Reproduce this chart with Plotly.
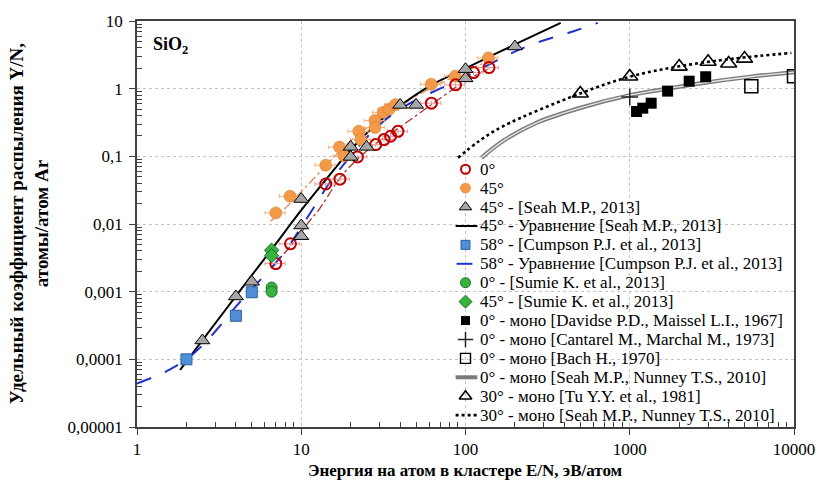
import plotly.graph_objects as go

# ---------------- data ----------------
# measured cluster data (this work)
red0_x = [7.0, 8.6, 14.1, 17.2, 22.0, 28.4, 31.9, 35.0, 38.8, 62, 87, 112, 139]
red0_y = [0.0026, 0.0051, 0.039, 0.046, 0.098, 0.149, 0.177, 0.198, 0.234, 0.61, 1.14, 1.73, 2.05]

orange45_x = [7.0, 8.55, 14.1, 17.1, 18.2, 22.4, 23.1, 28.1, 28.1, 31.5, 34.2, 37.4, 61.8, 86.7, 138]
orange45_y = [0.0146, 0.0257, 0.074, 0.137, 0.101, 0.234, 0.177, 0.338, 0.267, 0.446, 0.498, 0.58, 1.16, 1.53, 2.84]

# trend lines for the two series above
trend0_x = [6.6, 9.2, 11.3, 12.7, 18.3, 28, 39, 60, 100, 140]
trend0_y = [0.0023, 0.0057, 0.0113, 0.0158, 0.0575, 0.15, 0.26, 0.55, 1.3, 2.0]
trend45_x = [6.5, 8.35, 11.3, 15, 20, 30, 50, 100, 150]
trend45_y = [0.011, 0.019, 0.041, 0.085, 0.17, 0.36, 0.78, 1.8, 2.8]

# Seah M.P., 2013 (45°)
seah_x = [2.5, 4, 5, 10, 10, 10, 20, 20, 25, 40, 50, 100, 100, 200]
seah_y = [0.00019, 0.00085, 0.0014, 0.0234, 0.0095, 0.0066, 0.138, 0.098, 0.138, 0.575, 0.575, 1.94, 1.42, 4.2]
seah_eq_x = [1.83, 2.5, 4, 6.6, 10, 15, 20, 30, 40, 60, 100, 200, 380]
seah_eq_y = [7.0e-5, 1.9e-4, 8.6e-4, 4.2e-3, 0.016, 0.054, 0.125, 0.33, 0.56, 1.08, 2.0, 4.5, 9.4]

# Cumpson P.J. et al., 2013 (58°)
cumpson_x = [2, 4, 5]
cumpson_y = [0.0001, 0.00044, 0.00098]
cumpson_eq_x = [1, 1.5, 2, 2.5, 3, 4, 5, 6.3, 8, 10, 12, 14.5, 17.5, 25, 35, 50, 70, 100, 230, 450, 640]
cumpson_eq_y = [4.4e-5, 6.6e-5, 1.0e-4, 1.6e-4, 2.6e-4, 6.0e-4, 1.1e-3, 2.0e-3, 4.0e-3, 9.0e-3,
                0.018, 0.037, 0.068, 0.19, 0.40, 0.68, 1.0, 1.5, 4.1, 7.0, 9.4]

# Sumie K. et al., 2013
sumie0_x = [6.6, 6.6]
sumie0_y = [0.00115, 0.00100]
sumie45_x = [6.6, 6.6]
sumie45_y = [0.0041, 0.0034]

# monatomic Ar data
davidse_x = [1100, 1200, 1350, 1700, 2300, 2900]
davidse_y = [0.46, 0.515, 0.61, 0.92, 1.29, 1.5]
cantarel_x = [1000]
cantarel_y = [0.75]
bach_x = [5500, 10000]
bach_y = [1.09, 1.53]
tu_x = [500, 1000, 2000, 3000, 4000, 5000]
tu_y = [0.85, 1.51, 2.12, 2.5, 2.35, 2.78]

seah0_mono_x = [125, 169, 268, 500, 1000, 1700, 2700, 5400, 10000]
seah0_mono_y = [0.095, 0.168, 0.31, 0.52, 0.80, 1.0, 1.2, 1.5, 1.75]
seah30_mono_x = [90, 120, 169, 500, 1000, 2000, 4290, 9640]
seah30_mono_y = [0.095, 0.166, 0.278, 0.85, 1.5, 2.14, 2.78, 3.37]

x_ticks = [1, 10, 100, 1000, 10000]
x_ticktext = ["1", "10", "100", "1000", "10000"]
y_ticks = [1e-5, 1e-4, 1e-3, 1e-2, 1e-1, 1, 10]
y_ticktext = ["0,00001", "0,0001", "0,001", "0,01", "0,1", "1", "10"]

legend_labels = [
    "0°",
    "45°",
    "45° - [Seah M.P., 2013]",
    "45° - Уравнение [Seah M.P., 2013]",
    "58° - [Cumpson P.J. et al., 2013]",
    "58° - Уравнение [Cumpson P.J. et al., 2013]",
    "0° - [Sumie K. et al., 2013]",
    "45° - [Sumie K. et al., 2013]",
    "0° - моно [Davidse P.D., Maissel L.I., 1967]",
    "0° - моно [Cantarel M., Marchal M., 1973]",
    "0° - моно [Bach H., 1970]",
    "0° - моно [Seah M.P., Nunney T.S., 2010]",
    "30° - моно [Tu Y.Y. et al., 1981]",
    "30° - моно [Seah M.P., Nunney T.S., 2010]",
]

# ---------------- styles ----------------
SERIF = "Liberation Serif"
RED = "#c00000"
ORANGE = "#f39a4a"
GRAY_TRI = "#a6a6a6"
BLUE_SQ = "#4f8fd6"
BLUE_LINE = "#2233cc"
GREEN = "#37b33f"
GREEN_DARK = "#1d6e25"

W, H = 827, 481
ML, MR, MT, MB = 137, 26, 17, 54
PW, PH = W - ML - MR, H - MT - MB

fig = go.Figure()

# trend lines
fig.add_trace(go.Scatter(x=trend45_x, y=trend45_y, mode="lines", line_shape="spline",
                         line=dict(color="#e08a50", width=1.3, dash="dashdot"), showlegend=False))
fig.add_trace(go.Scatter(x=trend0_x, y=trend0_y, mode="lines", line_shape="spline",
                         line=dict(color="#b03030", width=1.3, dash="dashdot"), showlegend=False))

# equation curves
fig.add_trace(go.Scatter(x=seah_eq_x, y=seah_eq_y, mode="lines", line_shape="spline",
                         line=dict(color="black", width=2), showlegend=False))
fig.add_trace(go.Scatter(x=cumpson_eq_x, y=cumpson_eq_y, mode="lines", line_shape="spline",
                         line=dict(color=BLUE_LINE, width=2, dash="longdash"), showlegend=False))
fig.add_trace(go.Scatter(x=seah0_mono_x, y=seah0_mono_y, mode="lines", line_shape="spline",
                         line=dict(color="#7a7a7a", width=4.2), showlegend=False))
fig.add_trace(go.Scatter(x=seah0_mono_x, y=seah0_mono_y, mode="lines", line_shape="spline",
                         line=dict(color="#e8e8e8", width=1.3), showlegend=False))
fig.add_trace(go.Scatter(x=seah30_mono_x, y=seah30_mono_y, mode="lines", line_shape="spline",
                         line=dict(color="black", width=2.6, dash="dot"), showlegend=False))

# markers
fig.add_trace(go.Scatter(
    x=orange45_x, y=orange45_y, mode="markers", showlegend=False,
    marker=dict(symbol="circle", size=12, color=ORANGE, line=dict(color="#e07b28", width=0.6)),
    error_x=dict(type="percent", value=14, color="#f2b27a", thickness=1, width=2),
    error_y=dict(type="percent", value=8, color="#f2b27a", thickness=1, width=0)))
fig.add_trace(go.Scatter(
    x=red0_x, y=red0_y, mode="markers", showlegend=False,
    marker=dict(symbol="circle-open", size=11, color=RED, line=dict(color=RED, width=2)),
    error_x=dict(type="percent", value=14, color="#e49a9a", thickness=1, width=2),
    error_y=dict(type="percent", value=8, color="#e49a9a", thickness=1, width=0)))
fig.add_trace(go.Scatter(x=seah_x, y=seah_y, mode="markers", showlegend=False,
                         marker=dict(symbol="triangle-up", size=13, color=GRAY_TRI,
                                     line=dict(color="black", width=1))))
fig.add_trace(go.Scatter(x=cumpson_x, y=cumpson_y, mode="markers", showlegend=False,
                         marker=dict(symbol="square", size=11, color=BLUE_SQ,
                                     line=dict(color="#2f5f9f", width=1))))
fig.add_trace(go.Scatter(x=sumie0_x, y=sumie0_y, mode="markers", showlegend=False,
                         marker=dict(symbol="circle", size=11, color=GREEN,
                                     line=dict(color=GREEN_DARK, width=1))))
fig.add_trace(go.Scatter(x=sumie45_x, y=sumie45_y, mode="markers", showlegend=False,
                         marker=dict(symbol="diamond", size=11, color=GREEN,
                                     line=dict(color=GREEN_DARK, width=1))))
fig.add_trace(go.Scatter(x=davidse_x, y=davidse_y, mode="markers", showlegend=False,
                         marker=dict(symbol="square", size=11, color="black")))
fig.add_trace(go.Scatter(x=cantarel_x, y=cantarel_y, mode="markers", showlegend=False,
                         marker=dict(symbol="cross-thin", size=12, color="#222",
                                     line=dict(color="#222", width=1.5))))
fig.add_trace(go.Scatter(x=bach_x, y=bach_y, mode="markers", showlegend=False,
                         marker=dict(symbol="square-open", size=13, color="black",
                                     line=dict(color="black", width=1.5))))
fig.add_trace(go.Scatter(x=tu_x, y=tu_y, mode="markers", showlegend=False,
                         marker=dict(symbol="triangle-up-open", size=14, color="black",
                                     line=dict(color="black", width=1.6))))

# ---------------- legend (drawn on an overlay axis in plot-fraction units) ----------------
LEG_TOP_PX = 166.7
LEG_STEP_PX = 19.1
KEY_X_PX = 469
TEXT_X_PX = 482


def leg_y(i):
    return (MT + PH - (LEG_TOP_PX + i * LEG_STEP_PX)) / PH


def px_x(p):
    return (p - ML) / PW


key_markers = {
    0: dict(symbol="circle-open", size=9, color=RED, line=dict(color=RED, width=2)),
    1: dict(symbol="circle", size=10, color=ORANGE, line=dict(color="#e07b28", width=0.6)),
    2: dict(symbol="triangle-up", size=11, color=GRAY_TRI, line=dict(color="black", width=1)),
    4: dict(symbol="square", size=9, color=BLUE_SQ, line=dict(color="#2f5f9f", width=1)),
    6: dict(symbol="circle", size=10, color=GREEN, line=dict(color=GREEN_DARK, width=1)),
    7: dict(symbol="diamond", size=10, color=GREEN, line=dict(color=GREEN_DARK, width=1)),
    8: dict(symbol="square", size=9, color="black"),
    9: dict(symbol="cross-thin", size=11, color="#222", line=dict(color="#222", width=1.5)),
    10: dict(symbol="square-open", size=10, color="black", line=dict(color="black", width=1.4)),
    12: dict(symbol="triangle-up-open", size=11, color="black", line=dict(color="black", width=1.6)),
}
for i, m in key_markers.items():
    fig.add_trace(go.Scatter(x=[px_x(KEY_X_PX)], y=[leg_y(i)], xaxis="x2", yaxis="y2",
                             mode="markers", marker=m, showlegend=False, hoverinfo="skip"))

key_lines = {
    3: (459, 481, dict(color="black", width=2)),
    5: (460, 476, dict(color=BLUE_LINE, width=2)),
    11: (459, 481, dict(color="#7a7a7a", width=4)),
    13: (459, 481, dict(color="black", width=2.6, dash="dot")),
}
for i, (a, b, ln) in key_lines.items():
    fig.add_trace(go.Scatter(x=[px_x(a), px_x(b)], y=[leg_y(i), leg_y(i)], xaxis="x2", yaxis="y2",
                             mode="lines", line=ln, showlegend=False, hoverinfo="skip"))

annotations = []
for i, lab in enumerate(legend_labels):
    annotations.append(dict(x=px_x(TEXT_X_PX), y=leg_y(i), xref="paper", yref="paper",
                            xanchor="left", yanchor="middle", text=lab, showarrow=False,
                            font=dict(family=SERIF, size=17, color="black")))

annotations.append(dict(x=px_x(151), y=(MT + PH - 41.7) / PH, xref="paper", yref="paper",
                        xanchor="left", yanchor="middle", showarrow=False,
                        text="<b>SiO<sub>2</sub></b>",
                        font=dict(family=SERIF, size=18, color="black")))
annotations.append(dict(x=px_x(28), y=0.5, xref="paper", yref="paper",
                        xanchor="center", yanchor="middle", showarrow=False, textangle=-90,
                        text="<b>Удельный коэффициент распыления Y/N,<br>атомы/атом Ar</b>",
                        font=dict(family=SERIF, size=19, color="black")))
annotations.append(dict(x=0.5, y=(MT + PH - 471) / PH, xref="paper", yref="paper",
                        xanchor="center", yanchor="middle", showarrow=False,
                        text="<b>Энергия на атом в кластере E/N, эВ/атом</b>",
                        font=dict(family=SERIF, size=17, color="black")))

minor_x = [m * 10 ** d for d in range(4) for m in range(2, 10)]
minor_y = [m * 10.0 ** d for d in range(-5, 1) for m in range(2, 10)]

axis_common = dict(
    type="log", showgrid=True, gridcolor="#c4c4c4", griddash="dot", gridwidth=1,
    showline=True, linecolor="#404040", linewidth=1.5, mirror=True,
    ticks="outside", ticklen=6, tickcolor="#404040", tickwidth=1.2,
    tickfont=dict(family=SERIF, size=17, color="black"),
    zeroline=False,
)

fig.update_layout(
    width=W, height=H,
    margin=dict(l=ML, r=MR, t=MT, b=MB),
    paper_bgcolor="white", plot_bgcolor="white",
    showlegend=False,
    font=dict(family=SERIF),
    xaxis=dict(axis_common, range=[0, 4], tickmode="array", tickvals=x_ticks, ticktext=x_ticktext,
               ticklabelstandoff=0,
               minor=dict(tickmode="array", tickvals=minor_x, ticks="inside", ticklen=5,
                          tickcolor="#404040", showgrid=False)),
    yaxis=dict(axis_common, range=[-5, 1], tickmode="array", tickvals=y_ticks, ticktext=y_ticktext,
               ticklabelstandoff=3,
               minor=dict(tickmode="array", tickvals=minor_y, ticks="inside", ticklen=5,
                          tickcolor="#404040", showgrid=False)),
    xaxis2=dict(overlaying="x", range=[0, 1], visible=False, fixedrange=True),
    yaxis2=dict(overlaying="y", range=[0, 1], visible=False, fixedrange=True),
    annotations=annotations,
)

fig.write_html("out.html")
